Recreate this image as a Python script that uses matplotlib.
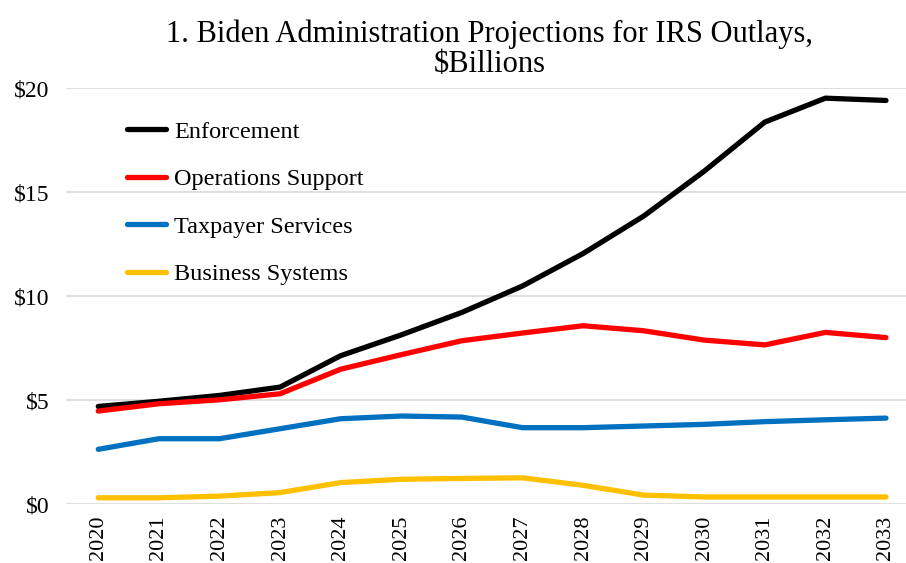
import matplotlib
matplotlib.use("Agg")
import matplotlib.pyplot as plt

years = ["2020", "2021", "2022", "2023", "2024", "2025", "2026",
         "2027", "2028", "2029", "2030", "2031", "2032", "2033"]

enforcement = [4.71, 4.96, 5.24, 5.64, 7.15, 8.15, 9.23,
               10.5, 12.06, 13.86, 16.02, 18.38, 19.53, 19.42]
operations = [4.49, 4.84, 5.03, 5.32, 6.5, 7.2, 7.87,
              8.24, 8.59, 8.35, 7.9, 7.67, 8.27, 8.02]
taxpayer = [2.65, 3.16, 3.16, 3.64, 4.12, 4.25, 4.2,
            3.69, 3.69, 3.77, 3.85, 3.98, 4.07, 4.15]
business = [0.32, 0.32, 0.4, 0.57, 1.05, 1.21, 1.25,
            1.28, 0.92, 0.45, 0.36, 0.36, 0.36, 0.36]

series = [("Enforcement", enforcement, "#000000"),
          ("Operations Support", operations, "#FF0000"),
          ("Taxpayer Services", taxpayer, "#0070C0"),
          ("Business Systems", business, "#FFC000")]

plt.rcParams["font.family"] = ["Liberation Serif", "DejaVu Serif"]

fig = plt.figure(figsize=(9.06, 5.63), dpi=100)
ax = fig.add_axes([0.073, 0.104, 0.935, 0.739])

x = list(range(len(years)))
for name, vals, col in series:
    ax.plot(x, vals, color=col, lw=3.8, label=name,
            solid_capstyle="round", solid_joinstyle="round")

ax.set_ylim(0, 20)
ax.set_xlim(-0.53, 13.45)
ax.set_yticks([0, 5, 10, 15, 20])
ax.set_yticklabels(["$0", "$5", "$10", "$15", "$20"], fontsize=17)
ax.set_xticks(x)
ax.set_xticklabels(years, rotation=90, fontsize=16)
ax.tick_params(axis="y", length=0, pad=12)
ax.tick_params(axis="x", length=0, pad=8)
ax.grid(axis="y", color="#d9d9d9", lw=1.2)
ax.set_axisbelow(True)
for s in ax.spines.values():
    s.set_visible(False)

ax.set_title("1. Biden Administration Projections for IRS Outlays,\n$Billions",
             fontsize=22, pad=12, linespacing=1.05)

leg = ax.legend(loc="upper left", bbox_to_anchor=(0.046, 0.975), frameon=False,
                fontsize=17.5, labelspacing=1.05, handlelength=1.6,
                handletextpad=0.35)

fig.savefig("out.png", dpi=100)
